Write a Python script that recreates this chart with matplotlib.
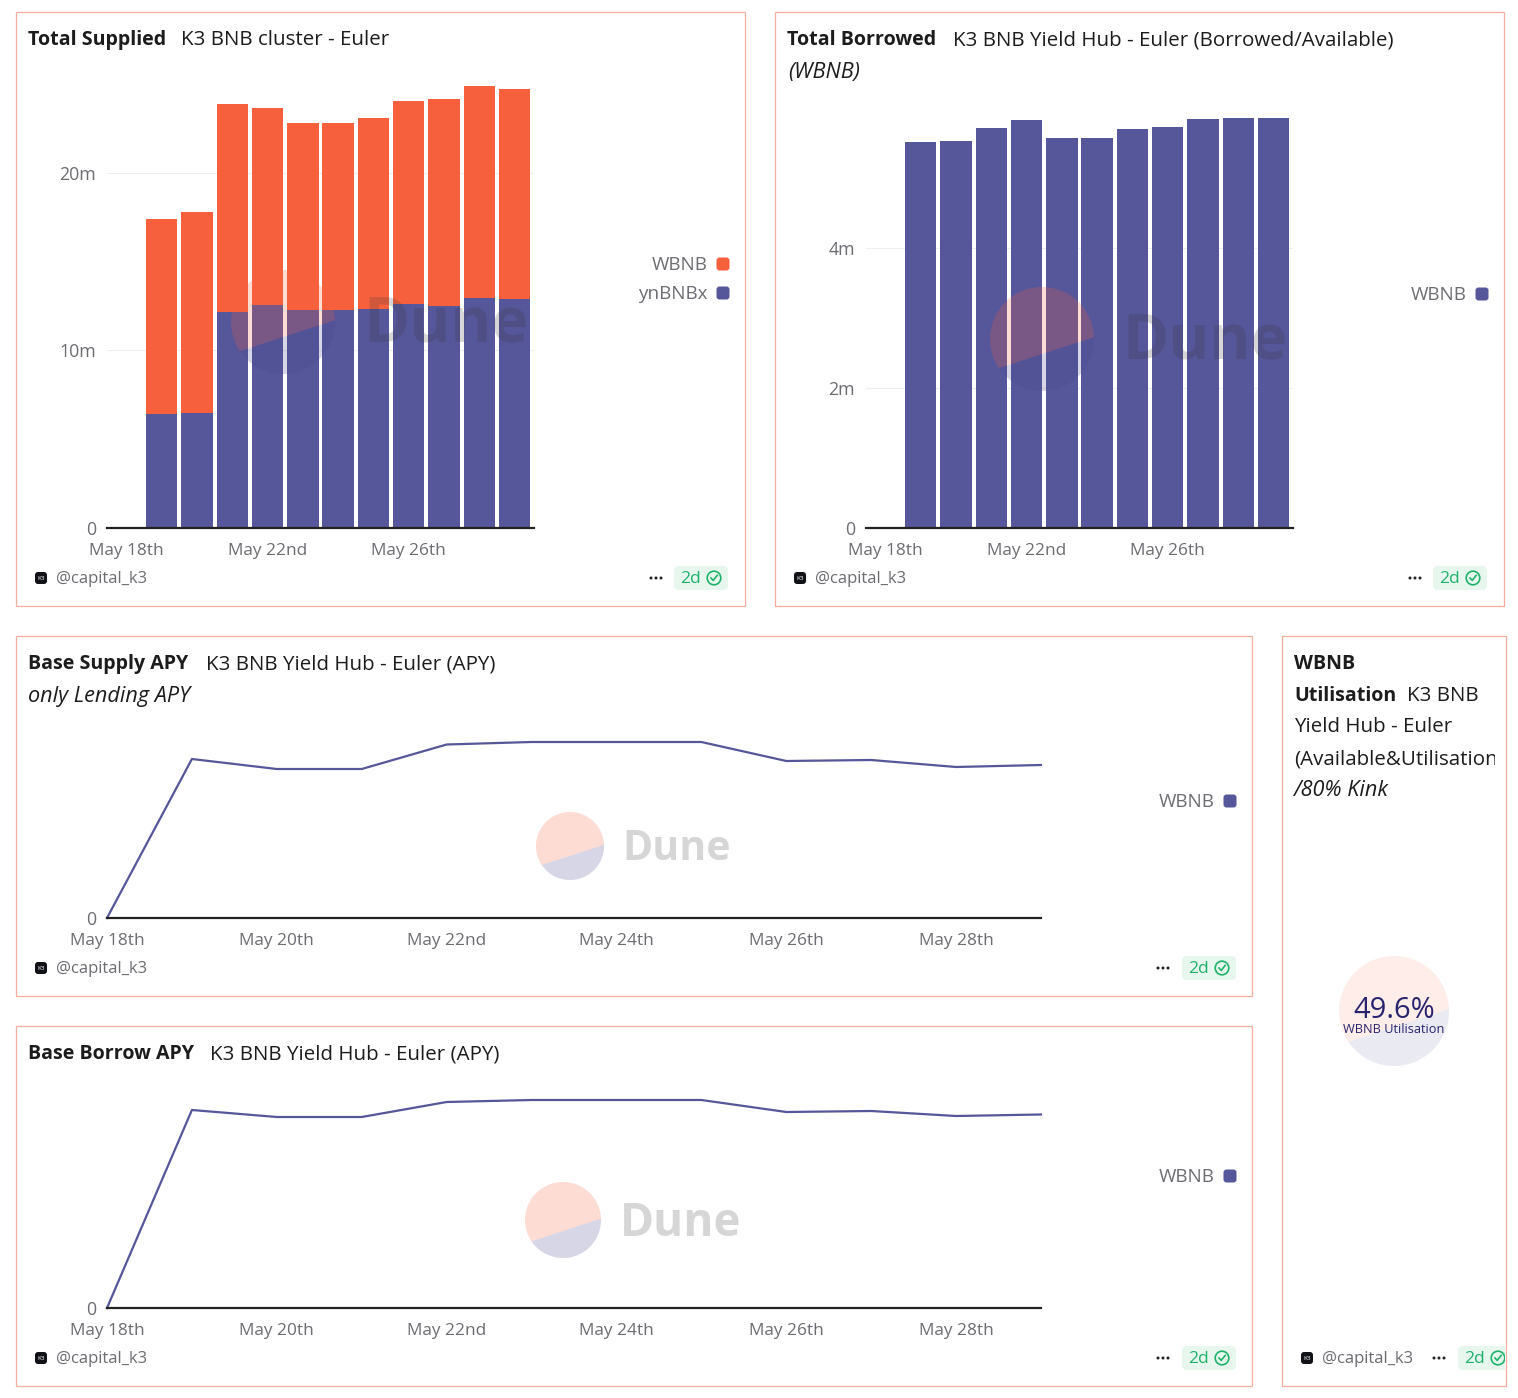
import numpy as np
import matplotlib
matplotlib.use("Agg")
import matplotlib.pyplot as plt
from matplotlib.patches import FancyBboxPatch, Polygon, Rectangle, Circle

plt.rcParams['font.family'] = ['Open Sans', 'Noto Sans', 'DejaVu Sans']

W, H = 1518, 1398
RED = '#f6603d'
BLUE = '#56569a'
INK = '#1c1c1c'
GREY = '#6c6c72'
BORDER = '#f6ae9e'

# Data
bar_days = [19, 20, 21, 22, 23, 24, 25, 26, 27, 28, 29]
supplied_ynbnbx = [6.42, 6.48, 12.17, 12.56, 12.28, 12.28, 12.34, 12.62, 12.51, 12.96, 12.90]
supplied_wbnb = [10.99, 11.32, 11.72, 11.10, 10.54, 10.54, 10.76, 11.44, 11.66, 11.94, 11.83]
borrowed_wbnb = [5.51, 5.53, 5.71, 5.83, 5.57, 5.57, 5.70, 5.73, 5.84, 5.86, 5.86]

line_days = [18, 19, 20, 21, 22, 23, 24, 25, 26, 27, 28, 29]
supply_apy = [0, 1.59, 1.49, 1.49, 1.735, 1.76, 1.76, 1.76, 1.57, 1.58, 1.51, 1.53]
borrow_apy = [0, 1.98, 1.91, 1.91, 2.06, 2.08, 2.08, 2.08, 1.96, 1.97, 1.92, 1.935]

bar_ticks = [18, 22, 26]
bar_tick_labels = ['May 18th', 'May 22nd', 'May 26th']
line_ticks = [18, 20, 22, 24, 26, 28]
line_tick_labels = ['May 18th', 'May 20th', 'May 22nd', 'May 24th', 'May 26th', 'May 28th']

fig = plt.figure(figsize=(W / 100, H / 100), dpi=100)


def make_axes(left, right, top, bottom, xlim, ylim):
    ax = fig.add_axes([left / W, 1 - bottom / H, (right - left) / W, (bottom - top) / H])
    ax.set_xlim(*xlim)
    ax.set_ylim(*ylim)
    for side in ['top', 'left', 'right']:
        ax.spines[side].set_visible(False)
    ax.spines['bottom'].set_color('#222222')
    ax.spines['bottom'].set_linewidth(1.6)
    ax.tick_params(axis='both', length=0, labelcolor=GREY)
    ax.tick_params(axis='x', pad=10.5, labelsize=12.4)
    ax.tick_params(axis='y', pad=8, labelsize=12.8)
    ax.set_axisbelow(True)
    ax.grid(axis='y', color='#eeeeee', lw=0.8)
    return ax


# -------- Total Supplied --------
ax1 = make_axes(107, 534, 70, 528, (17.45, 29.55), (0, 25.8))
ax1.bar(bar_days, supplied_ynbnbx, width=0.89, color=BLUE)
ax1.bar(bar_days, supplied_wbnb, width=0.89, bottom=supplied_ynbnbx, color=RED)
ax1.set_xticks(bar_ticks, bar_tick_labels)
ax1.set_yticks([0, 10, 20], ['0', '10m', '20m'])

# -------- Total Borrowed --------
ax2 = make_axes(866, 1293, 90, 528, (17.45, 29.55), (0, 6.257))
ax2.bar(bar_days, borrowed_wbnb, width=0.89, color=BLUE)
ax2.set_xticks(bar_ticks, bar_tick_labels)
ax2.set_yticks([0, 2, 4], ['0', '2m', '4m'])

# -------- APY lines --------
ax3 = make_axes(107, 1041, 710, 918, (18, 29), (0, 2.08))
ax3.plot(line_days, supply_apy, color=BLUE, lw=1.6, clip_on=False)
ax3.set_xticks(line_ticks, line_tick_labels)
ax3.set_yticks([0], ['0'])

ax4 = make_axes(107, 1041, 1090, 1308, (18, 29), (0, 2.18))
ax4.plot(line_days, borrow_apy, color=BLUE, lw=1.6, clip_on=False)
ax4.set_xticks(line_ticks, line_tick_labels)
ax4.set_yticks([0], ['0'])

# overlay in pixel coords for the card furniture
ov = fig.add_axes([0, 0, 1, 1], zorder=10)
ov.set_xlim(0, W)
ov.set_ylim(H, 0)
ov.axis('off')


def card(x0, y0, x1, y1):
    ov.add_patch(Rectangle((x0, y0), x1 - x0, y1 - y0, fill=False, ec=BORDER, lw=0.9))


def label(x, y, s, size=14.75, color=INK, weight='normal', style='normal', ha='left', clip=None):
    if weight == 'bold':
        size = 14.1
    if style == 'italic':
        size = 15.6
    t = ov.text(x, y + 1.2, s, fontsize=size, color=color, fontweight=weight, fontstyle=style,
                ha=ha, va='center')
    if clip is not None:
        t.set_clip_path(clip)
        t.set_clip_on(True)
    return t


def legend_item(right, y, s, color):
    ov.add_patch(FancyBboxPatch((right - 10, y - 5), 10, 10, boxstyle='round,pad=1.5,rounding_size=3',
                                fc=color, ec='none'))
    label(right - 20, y, s, size=13.6, color=GREY, ha='right')


def footer(x_icon, y, x_dots, x_badge0, x_badge1, clip=None):
    ov.add_patch(FancyBboxPatch((x_icon - 4.5, y - 4.5), 9, 9, boxstyle='round,pad=1.5,rounding_size=3',
                                fc='#111118', ec='none'))
    ov.text(x_icon, y, 'K3', fontsize=4.6, color='white', ha='center', va='center')
    label(x_icon + 15, y, '@capital_k3', size=12, color=GREY)
    for dx in [-5, 0, 5]:
        ov.add_patch(Circle((x_dots + dx, y), 1.5, fc='#222222', ec='none'))
    badge = FancyBboxPatch((x_badge0 + 5, y - 7), x_badge1 - x_badge0 - 10, 14,
                           boxstyle='round,pad=5,rounding_size=5', fc='#e7f7ee', ec='none')
    ov.add_patch(badge)
    if clip is not None:
        badge.set_clip_path(clip)
    label(x_badge0 + 6, y, '2d', size=12.6, color='#1fb26b', clip=clip)
    cx = x_badge0 + 40
    ring = Circle((cx, y), 6.8, fill=False, ec='#1fb26b', lw=1.2)
    ov.add_patch(ring)
    tick, = ov.plot([cx - 3, cx - 0.8, cx + 3.2], [y, y + 2.4, y - 2.6], color='#1fb26b', lw=1.2)
    if clip is not None:
        ring.set_clip_path(clip)
        tick.set_clip_path(clip)


def watermark(cx, cy, r, text_x=None, text_size=None, alpha=0.22):
    # y axis points down here, so positive angles are the lower half
    low = np.radians(np.linspace(-2, 146, 60))
    up = np.radians(np.linspace(146, 358, 60))
    ov.add_patch(Polygon(np.c_[cx + r * np.cos(low), cy + r * np.sin(low)], closed=True,
                         fc='#45458f', ec='none', alpha=alpha))
    ov.add_patch(Polygon(np.c_[cx + r * np.cos(up), cy + r * np.sin(up)], closed=True,
                         fc=RED, ec='none', alpha=alpha))
    if text_x is not None:
        ov.text(text_x, cy + 3, 'Dune', fontsize=text_size, fontweight='bold', color='#333333',
                alpha=0.2, ha='left', va='center')


# cards
card(16, 12, 745, 606)
card(775, 12, 1504, 606)
card(16, 636, 1252, 996)
card(16, 1026, 1252, 1386)
card(1282, 636, 1506, 1386)

# titles
label(28, 39, 'Total Supplied', weight='bold')
label(181, 39, 'K3 BNB cluster - Euler')
label(787, 39, 'Total Borrowed', weight='bold')
label(953, 39, 'K3 BNB Yield Hub - Euler (Borrowed/Available)')
label(788, 71, '(WBNB)', style='italic')
label(28, 663, 'Base Supply APY', weight='bold')
label(206, 663, 'K3 BNB Yield Hub - Euler (APY)')
label(28, 695, 'only Lending APY', style='italic')
label(28, 1053, 'Base Borrow APY', weight='bold')
label(210, 1053, 'K3 BNB Yield Hub - Euler (APY)')

clip5 = Rectangle((1283, 637), 212, 748, transform=ov.transData)
label(1294, 663, 'WBNB', weight='bold')
label(1294, 695, 'Utilisation', weight='bold')
label(1407, 695, 'K3 BNB')
label(1294, 726, 'Yield Hub - Euler')
label(1294, 758, '(Available&Utilisation', clip=clip5)
label(1294, 789, '/80% Kink', style='italic')

# legends
legend_item(728, 264, 'WBNB', RED)
legend_item(728, 293, 'ynBNBx', BLUE)
legend_item(1487, 294, 'WBNB', BLUE)
legend_item(1235, 801, 'WBNB', BLUE)
legend_item(1235, 1176, 'WBNB', BLUE)

# footers
clip_badge = Rectangle((1283, 1340), 222, 40, transform=ov.transData)
footer(41, 578, 656, 674, 728)
footer(800, 578, 1415, 1433, 1487)
footer(41, 968, 1163, 1182, 1236)
footer(41, 1358, 1163, 1182, 1236)
footer(1307, 1358, 1439, 1458, 1512, clip=clip_badge)

# watermarks
watermark(283, 322, 52, 363, 45)
watermark(1042, 339, 52, 1122, 45)
watermark(570, 846, 34, 622, 29.5)
watermark(563, 1220, 38, 620, 33)
watermark(1394, 1011, 55, alpha=0.11)

# counter
ov.text(1394, 1010.5, '49.6%', fontsize=21, color='#2a2470', ha='center', va='center')
ov.text(1394, 1029.5, 'WBNB Utilisation', fontsize=9.2, color='#2a2470', ha='center', va='center')

fig.savefig('out.png', dpi=100, facecolor='white')
